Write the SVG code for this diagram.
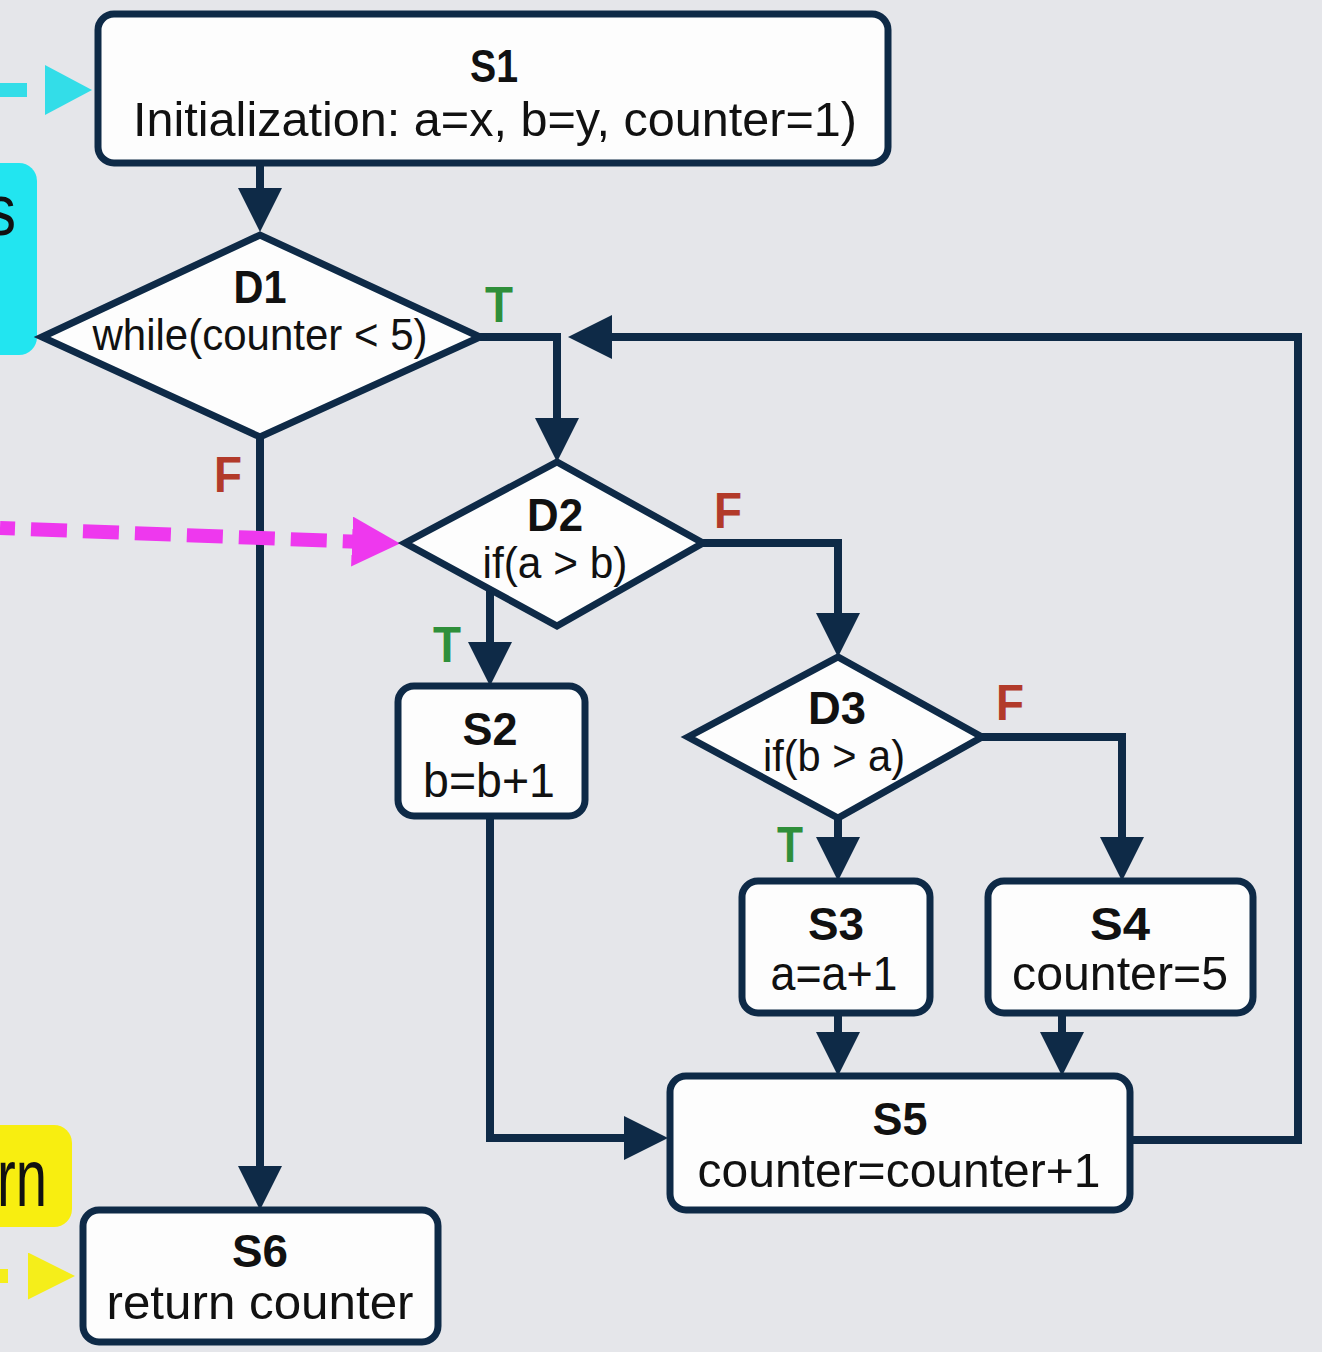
<svg xmlns="http://www.w3.org/2000/svg" width="1322" height="1352" viewBox="0 0 1322 1352">
<defs>
<style>
text{font-family:"Liberation Sans",Arial,sans-serif;fill:#111;text-anchor:middle}
.lbl{font-weight:bold;font-size:46px}
.txt{font-size:49px}
.dtx{font-size:44px}
.tl{font-weight:bold;font-size:50px;fill:#2f8f3a}
.fl{font-weight:bold;font-size:50px;fill:#b23a2a}
.box{fill:#fdfdfd;stroke:#0e2a47;stroke-width:7}
.con{fill:none;stroke:#0e2a47;stroke-width:8;marker-end:url(#ah)}
</style>
<marker id="ah" markerUnits="userSpaceOnUse" markerWidth="44" markerHeight="44" viewBox="0 0 44 44" refX="34" refY="22" orient="auto"><path d="M0,0 L44,22 L0,44 z" fill="#0e2a47"/></marker>
<marker id="am" markerUnits="userSpaceOnUse" markerWidth="48" markerHeight="50" viewBox="0 0 48 50" refX="38" refY="25" orient="auto"><path d="M0,0 L48,25 L0,50 z" fill="#ee38ee"/></marker>
<marker id="ac" markerUnits="userSpaceOnUse" markerWidth="47" markerHeight="50" viewBox="0 0 47 50" refX="37" refY="25" orient="auto"><path d="M0,0 L47,25 L0,50 z" fill="#33dde8"/></marker>
<marker id="ay" markerUnits="userSpaceOnUse" markerWidth="47" markerHeight="47" viewBox="0 0 47 47" refX="37" refY="23.5" orient="auto"><path d="M0,0 L47,23.5 L0,47 z" fill="#f5ee1a"/></marker>
</defs>
<rect x="0" y="0" width="1322" height="1352" fill="#e5e6ea"/>

<g id="side-cyan">
<rect x="-30" y="163" width="67" height="192" rx="18" fill="#22e5f0"/>
<text x="16" y="235" style="font-size:72px;text-anchor:end" textLength="30" lengthAdjust="spacingAndGlyphs">s</text>
</g>
<g id="side-yellow">
<rect x="-30" y="1125" width="102" height="102" rx="18" fill="#f8ee10"/>
<text x="47" y="1206" style="font-size:82px;text-anchor:end" textLength="50" lengthAdjust="spacingAndGlyphs">rn</text>
</g>

<g id="connectors">
<path class="con" d="M260,163 V222"/>
<path class="con" d="M480,337 H557 V452"/>
<path class="con" d="M260,437 V1200"/>
<path class="con" d="M490,589 V676"/>
<path class="con" d="M703,543 H838 V647"/>
<path class="con" d="M490,816 V1138 H658"/>
<path class="con" d="M838,818 V871"/>
<path class="con" d="M982,737 H1122 V871"/>
<path class="con" d="M838,1013 V1066"/>
<path class="con" d="M1062,1013 V1066"/>
<path class="con" d="M1130,1140 H1298 V337 H578"/>
<path d="M0,90 H82" fill="none" stroke="#33dde8" stroke-width="14" stroke-dasharray="27 60" marker-end="url(#ac)"/>
<path d="M0,1276 H65" fill="none" stroke="#f5ee1a" stroke-width="14" stroke-dasharray="8 60" marker-end="url(#ay)"/>
<path d="M0,528 L390,543" fill="none" stroke="#ee38ee" stroke-width="14" stroke-dasharray="36 16" stroke-dashoffset="21" marker-end="url(#am)"/>
</g>

<g id="labels">
<text class="tl" x="499" y="322" textLength="28" lengthAdjust="spacingAndGlyphs">T</text>
<text class="fl" x="228" y="492" textLength="28" lengthAdjust="spacingAndGlyphs">F</text>
<text class="fl" x="728" y="528" textLength="28" lengthAdjust="spacingAndGlyphs">F</text>
<text class="tl" x="447" y="662" textLength="28" lengthAdjust="spacingAndGlyphs">T</text>
<text class="fl" x="1010" y="720" textLength="28" lengthAdjust="spacingAndGlyphs">F</text>
<text class="tl" x="790" y="862" textLength="26" lengthAdjust="spacingAndGlyphs">T</text>
</g>

<g id="S1">
<rect class="box" x="98" y="14" width="790" height="149" rx="16"/>
<text class="lbl" x="494" y="82" textLength="48" lengthAdjust="spacingAndGlyphs">S1</text>
<text class="txt" x="495" y="136" textLength="724" lengthAdjust="spacingAndGlyphs">Initialization: a=x, b=y, counter=1)</text>
</g>
<g id="D1">
<polygon class="box" points="42,337 260,235 480,337 260,437"/>
<text class="lbl" x="260" y="303" textLength="53" lengthAdjust="spacingAndGlyphs">D1</text>
<text class="dtx" x="260" y="350" textLength="335" lengthAdjust="spacingAndGlyphs">while(counter &lt; 5)</text>
</g>
<g id="D2">
<polygon class="box" points="405,543 557,462 703,543 557,626"/>
<text class="lbl" x="555" y="531" textLength="56" lengthAdjust="spacingAndGlyphs">D2</text>
<text class="dtx" x="555" y="578" textLength="145" lengthAdjust="spacingAndGlyphs">if(a &gt; b)</text>
</g>
<g id="S2">
<rect class="box" x="398" y="686" width="187" height="130" rx="16"/>
<text class="lbl" x="490" y="745" textLength="55" lengthAdjust="spacingAndGlyphs">S2</text>
<text class="txt" x="489" y="797" textLength="132" lengthAdjust="spacingAndGlyphs">b=b+1</text>
</g>
<g id="D3">
<polygon class="box" points="688,737 838,657 982,737 838,818"/>
<text class="lbl" x="837" y="724" textLength="58" lengthAdjust="spacingAndGlyphs">D3</text>
<text class="dtx" x="834" y="771" textLength="142" lengthAdjust="spacingAndGlyphs">if(b &gt; a)</text>
</g>
<g id="S3">
<rect class="box" x="742" y="881" width="188" height="132" rx="16"/>
<text class="lbl" x="836" y="940" textLength="56" lengthAdjust="spacingAndGlyphs">S3</text>
<text class="txt" x="834" y="990" textLength="127" lengthAdjust="spacingAndGlyphs">a=a+1</text>
</g>
<g id="S4">
<rect class="box" x="988" y="881" width="265" height="132" rx="16"/>
<text class="lbl" x="1120" y="940" textLength="60" lengthAdjust="spacingAndGlyphs">S4</text>
<text class="txt" x="1120" y="990" textLength="216" lengthAdjust="spacingAndGlyphs">counter=5</text>
</g>
<g id="S5">
<rect class="box" x="670" y="1076" width="460" height="134" rx="16"/>
<text class="lbl" x="900" y="1135" textLength="55" lengthAdjust="spacingAndGlyphs">S5</text>
<text class="txt" x="899" y="1187" textLength="403" lengthAdjust="spacingAndGlyphs">counter=counter+1</text>
</g>
<g id="S6">
<rect class="box" x="83" y="1210" width="355" height="132" rx="16"/>
<text class="lbl" x="260" y="1267" textLength="56" lengthAdjust="spacingAndGlyphs">S6</text>
<text class="txt" x="260" y="1319" textLength="307" lengthAdjust="spacingAndGlyphs">return counter</text>
</g>
</svg>
